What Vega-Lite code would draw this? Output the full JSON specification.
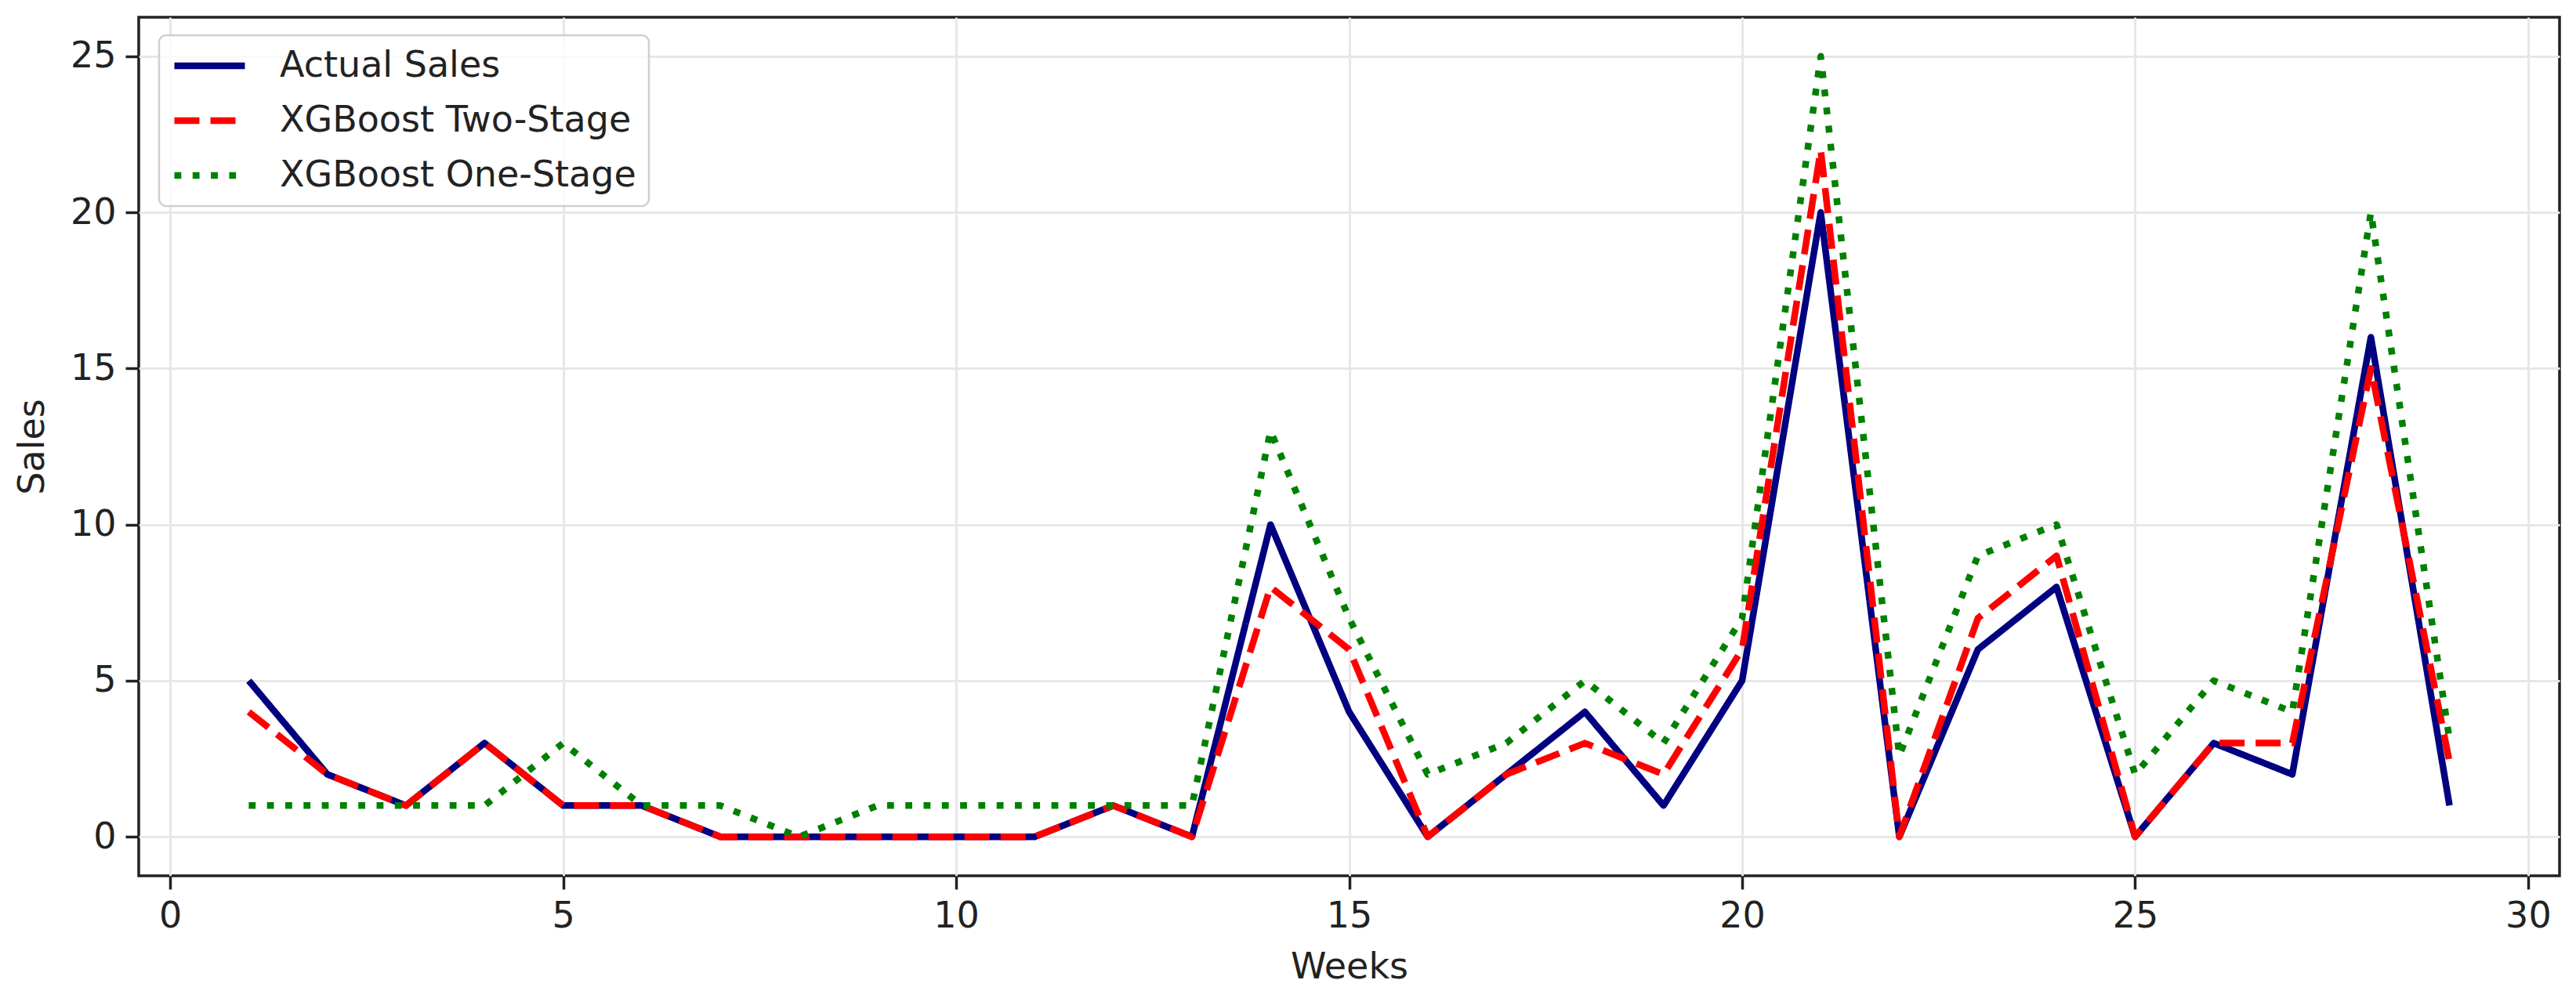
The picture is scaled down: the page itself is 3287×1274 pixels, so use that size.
{
  "$schema": "https://vega.github.io/schema/vega-lite/v6.json",
  "width": 3089,
  "height": 1096,
  "autosize": {"type": "none"},
  "padding": {"left": 177, "top": 22, "right": 21, "bottom": 156},
  "background": "white",
  "data": {
    "values": [
      {"week": 1, "Actual Sales": 5, "XGBoost Two-Stage": 4, "XGBoost One-Stage": 1},
      {"week": 2, "Actual Sales": 2, "XGBoost Two-Stage": 2, "XGBoost One-Stage": 1},
      {"week": 3, "Actual Sales": 1, "XGBoost Two-Stage": 1, "XGBoost One-Stage": 1},
      {"week": 4, "Actual Sales": 3, "XGBoost Two-Stage": 3, "XGBoost One-Stage": 1},
      {"week": 5, "Actual Sales": 1, "XGBoost Two-Stage": 1, "XGBoost One-Stage": 3},
      {"week": 6, "Actual Sales": 1, "XGBoost Two-Stage": 1, "XGBoost One-Stage": 1},
      {"week": 7, "Actual Sales": 0, "XGBoost Two-Stage": 0, "XGBoost One-Stage": 1},
      {"week": 8, "Actual Sales": 0, "XGBoost Two-Stage": 0, "XGBoost One-Stage": 0},
      {"week": 9, "Actual Sales": 0, "XGBoost Two-Stage": 0, "XGBoost One-Stage": 1},
      {"week": 10, "Actual Sales": 0, "XGBoost Two-Stage": 0, "XGBoost One-Stage": 1},
      {"week": 11, "Actual Sales": 0, "XGBoost Two-Stage": 0, "XGBoost One-Stage": 1},
      {"week": 12, "Actual Sales": 1, "XGBoost Two-Stage": 1, "XGBoost One-Stage": 1},
      {"week": 13, "Actual Sales": 0, "XGBoost Two-Stage": 0, "XGBoost One-Stage": 1},
      {"week": 14, "Actual Sales": 10, "XGBoost Two-Stage": 8, "XGBoost One-Stage": 13},
      {"week": 15, "Actual Sales": 4, "XGBoost Two-Stage": 6, "XGBoost One-Stage": 7},
      {"week": 16, "Actual Sales": 0, "XGBoost Two-Stage": 0, "XGBoost One-Stage": 2},
      {"week": 17, "Actual Sales": 2, "XGBoost Two-Stage": 2, "XGBoost One-Stage": 3},
      {"week": 18, "Actual Sales": 4, "XGBoost Two-Stage": 3, "XGBoost One-Stage": 5},
      {"week": 19, "Actual Sales": 1, "XGBoost Two-Stage": 2, "XGBoost One-Stage": 3},
      {"week": 20, "Actual Sales": 5, "XGBoost Two-Stage": 6, "XGBoost One-Stage": 7},
      {"week": 21, "Actual Sales": 20, "XGBoost Two-Stage": 22, "XGBoost One-Stage": 25},
      {"week": 22, "Actual Sales": 0, "XGBoost Two-Stage": 0, "XGBoost One-Stage": 2.6},
      {"week": 23, "Actual Sales": 6, "XGBoost Two-Stage": 7, "XGBoost One-Stage": 9},
      {"week": 24, "Actual Sales": 8, "XGBoost Two-Stage": 9, "XGBoost One-Stage": 10},
      {"week": 25, "Actual Sales": 0, "XGBoost Two-Stage": 0, "XGBoost One-Stage": 2},
      {"week": 26, "Actual Sales": 3, "XGBoost Two-Stage": 3, "XGBoost One-Stage": 5},
      {"week": 27, "Actual Sales": 2, "XGBoost Two-Stage": 3, "XGBoost One-Stage": 4},
      {"week": 28, "Actual Sales": 16, "XGBoost Two-Stage": 15, "XGBoost One-Stage": 20},
      {"week": 29, "Actual Sales": 1, "XGBoost Two-Stage": 2.4, "XGBoost One-Stage": 3.1}
    ]
  },
  "transform": [
    {"fold": ["Actual Sales", "XGBoost Two-Stage", "XGBoost One-Stage"], "as": ["series", "sales"]}
  ],
  "mark": {"type": "line", "strokeWidth": 8.5, "strokeCap": "butt", "strokeJoin": "round"},
  "encoding": {
    "x": {
      "field": "week",
      "type": "quantitative",
      "scale": {"domain": [-0.4, 30.4], "nice": false, "zero": false},
      "axis": {"values": [0, 5, 10, 15, 20, 25, 30], "title": "Weeks", "titlePadding": 20}
    },
    "y": {
      "field": "sales",
      "type": "quantitative",
      "scale": {"domain": [-1.25, 26.25], "nice": false, "zero": false},
      "axis": {"values": [0, 5, 10, 15, 20, 25], "title": "Sales", "titlePadding": 24}
    },
    "color": {
      "field": "series",
      "type": "nominal",
      "scale": {
        "domain": ["Actual Sales", "XGBoost Two-Stage", "XGBoost One-Stage"],
        "range": ["#000080", "#ff0000", "#008000"]
      },
      "legend": {"title": null}
    },
    "strokeDash": {
      "field": "series",
      "type": "nominal",
      "scale": {
        "domain": ["Actual Sales", "XGBoost Two-Stage", "XGBoost One-Stage"],
        "range": [[1, 0], [32, 14], [8.8, 14.5]]
      },
      "legend": {"title": null}
    }
  },
  "config": {
    "font": "DejaVu Sans",
    "view": {"stroke": "#222222", "strokeWidth": 3.5},
    "axis": {
      "domain": false,
      "grid": true,
      "gridColor": "#e7e7e7",
      "gridWidth": 3,
      "tickColor": "#222222",
      "tickWidth": 3.5,
      "tickSize": 17,
      "labelPadding": 12,
      "labelFont": "DejaVu Sans",
      "labelFontSize": 46,
      "labelColor": "#222222",
      "labelFlush": false,
      "titleFont": "DejaVu Sans",
      "titleFontSize": 46,
      "titleFontWeight": "normal",
      "titleColor": "#222222"
    },
    "legend": {
      "orient": "none",
      "legendX": 26,
      "legendY": 23,
      "padding": 16,
      "rowPadding": 24,
      "labelFont": "DejaVu Sans",
      "labelFontSize": 46,
      "labelColor": "#222222",
      "labelLimit": 2000,
      "labelOffset": 92,
      "symbolType": "M-1.3,0H4.7",
      "symbolSize": 900,
      "symbolStrokeWidth": 8.5,
      "fillColor": "rgba(255,255,255,0.8)",
      "strokeColor": "#d0d0d0",
      "strokeWidth": 2.5,
      "cornerRadius": 9
    }
  }
}
